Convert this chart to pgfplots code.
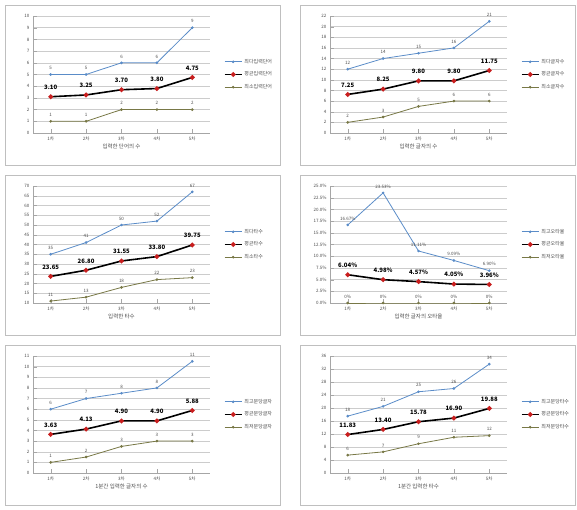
\documentclass[border=0pt]{standalone}
\usepackage{pgfplots}
\pgfplotsset{compat=1.18}
\usepackage{fontspec}
\setmainfont{Noto Sans CJK KR}
\definecolor{cmax}{RGB}{90,140,200}
\definecolor{cmin}{RGB}{120,120,70}
\definecolor{cavg}{RGB}{200,30,30}
\pgfplotsset{
 panel/.style={scale only axis,width=177pt,height=117pt,
  xmin=0.5,xmax=5.5,xtick={1,...,5},xticklabels={1차,2차,3차,4차,5차},
  axis x line*=bottom, axis y line*=left, axis line style={gray!70},
  ymajorgrids, grid style={gray!40}, tick style={gray!70},
  tick label style={font=\fontsize{4.5}{5}\selectfont,text=gray!60!black},
  label style={font=\fontsize{5.5}{6}\selectfont,text=gray!60!black},
  /pgf/number format/assume math mode=true,
  xlabel style={yshift=4pt},
  legend style={draw=none,fill=none,at={(1.06,0.5)},anchor=west,font=\fontsize{5}{6}\selectfont,text=gray!60!black,row sep=3pt},
  legend cell align=left,
  nodes near coords, point meta=explicit symbolic,
  every node near coord/.append style={font=\fontsize{4.5}{5}\selectfont,text=gray!60!black,yshift=1pt},
 },
 pmax/.style={color=cmax,mark=*,mark size=0.9pt,thick},
 pavg/.style={color=black,line width=1.6pt,mark=*,mark size=1.5pt,mark options={fill=cavg,draw=cavg},
   every node near coord/.append style={font=\bfseries\fontsize{6}{7}\selectfont,text=black,yshift=2pt}},
 pmin/.style={color=cmin,mark=*,mark size=0.9pt,thick},
}
\begin{document}
\begin{tikzpicture}
\path[use as bounding box] (0pt,0pt) rectangle (577pt,509pt);
\foreach \ox in {5,300}{\foreach \oy in {344,174,4}{\draw[gray!50] (\ox pt,\oy pt) rectangle ++(275pt,160pt);}}
% 1
\begin{axis}[panel,at={(33pt,376pt)},anchor=south west,ymin=0,ymax=10,ytick={0,...,10},xlabel={입력한 단어의 수}]
\addplot[pmax] table[meta=l,row sep=\\]{x y l\\1 5 5\\2 5 5\\3 6 6\\4 6 6\\5 9 9\\};
\addplot[pavg] table[meta=l,row sep=\\]{x y l\\1 3.10 3.10\\2 3.25 3.25\\3 3.70 3.70\\4 3.80 3.80\\5 4.75 4.75\\};
\addplot[pmin] table[meta=l,row sep=\\]{x y l\\1 1 1\\2 1 1\\3 2 2\\4 2 2\\5 2 2\\};
\legend{최다입력단어,평균입력단어,최소입력단어}
\end{axis}
% 2
\begin{axis}[panel,at={(330pt,376pt)},anchor=south west,ymin=0,ymax=22,ytick={0,2,...,22},xlabel={입력한 글자의 수}]
\addplot[pmax] table[meta=l,row sep=\\]{x y l\\1 12 12\\2 14 14\\3 15 15\\4 16 16\\5 21 21\\};
\addplot[pavg] table[meta=l,row sep=\\]{x y l\\1 7.25 7.25\\2 8.25 8.25\\3 9.80 9.80\\4 9.80 9.80\\5 11.75 11.75\\};
\addplot[pmin] table[meta=l,row sep=\\]{x y l\\1 2 2\\2 3 3\\3 5 5\\4 6 6\\5 6 6\\};
\legend{최다글자수,평균글자수,최소글자수}
\end{axis}
% 3
\begin{axis}[panel,at={(33pt,206pt)},anchor=south west,ymin=10,ymax=70,ytick={10,15,...,70},xlabel={입력한 타수}]
\addplot[pmax] table[meta=l,row sep=\\]{x y l\\1 35 35\\2 41 41\\3 50 50\\4 52 52\\5 67 67\\};
\addplot[pavg] table[meta=l,row sep=\\]{x y l\\1 23.65 23.65\\2 26.80 26.80\\3 31.55 31.55\\4 33.80 33.80\\5 39.75 39.75\\};
\addplot[pmin] table[meta=l,row sep=\\]{x y l\\1 11 11\\2 13 13\\3 18 18\\4 22 22\\5 23 23\\};
\legend{최다타수,평균타수,최소타수}
\end{axis}
% 4
\begin{axis}[panel,at={(330pt,206pt)},anchor=south west,ymin=0,ymax=25,ytick={0,2.5,...,25},
 yticklabel={\pgfmathprintnumber[fixed,fixed zerofill,precision=1]{\tick}\%},xlabel={입력한 글자의 오타율}]
\addplot[pmax] table[meta=l,row sep=\\]{x y l\\1 16.67 16.67\%\\2 23.53 23.53\%\\3 11.11 11.11\%\\4 9.09 9.09\%\\5 6.90 6.90\%\\};
\addplot[pavg] table[meta=l,row sep=\\]{x y l\\1 6.04 6.04\%\\2 4.98 4.98\%\\3 4.57 4.57\%\\4 4.05 4.05\%\\5 3.96 3.96\%\\};
\addplot[pmin] table[meta=l,row sep=\\]{x y l\\1 0 0\%\\2 0 0\%\\3 0 0\%\\4 0 0\%\\5 0 0\%\\};
\legend{최고오타율,평균오타율,최저오타율}
\end{axis}
% 5
\begin{axis}[panel,at={(33pt,36pt)},anchor=south west,ymin=0,ymax=11,ytick={0,...,11},xlabel={1분간 입력한 글자의 수}]
\addplot[pmax] table[meta=l,row sep=\\]{x y l\\1 6 6\\2 7 7\\3 7.5 8\\4 8 8\\5 10.5 11\\};
\addplot[pavg] table[meta=l,row sep=\\]{x y l\\1 3.63 3.63\\2 4.13 4.13\\3 4.90 4.90\\4 4.90 4.90\\5 5.88 5.88\\};
\addplot[pmin] table[meta=l,row sep=\\]{x y l\\1 1 1\\2 1.5 2\\3 2.5 3\\4 3 3\\5 3 3\\};
\legend{최고분당글자,평균분당글자,최저분당글자}
\end{axis}
% 6
\begin{axis}[panel,at={(330pt,36pt)},anchor=south west,ymin=0,ymax=36,ytick={0,4,...,36},xlabel={1분간 입력한 타수}]
\addplot[pmax] table[meta=l,row sep=\\]{x y l\\1 17.5 18\\2 20.5 21\\3 25 25\\4 26 26\\5 33.5 34\\};
\addplot[pavg] table[meta=l,row sep=\\]{x y l\\1 11.83 11.83\\2 13.40 13.40\\3 15.78 15.78\\4 16.90 16.90\\5 19.88 19.88\\};
\addplot[pmin] table[meta=l,row sep=\\]{x y l\\1 5.5 6\\2 6.5 7\\3 9 9\\4 11 11\\5 11.5 12\\};
\legend{최고분당타수,평균분당타수,최저분당타수}
\end{axis}
\end{tikzpicture}
\end{document}
